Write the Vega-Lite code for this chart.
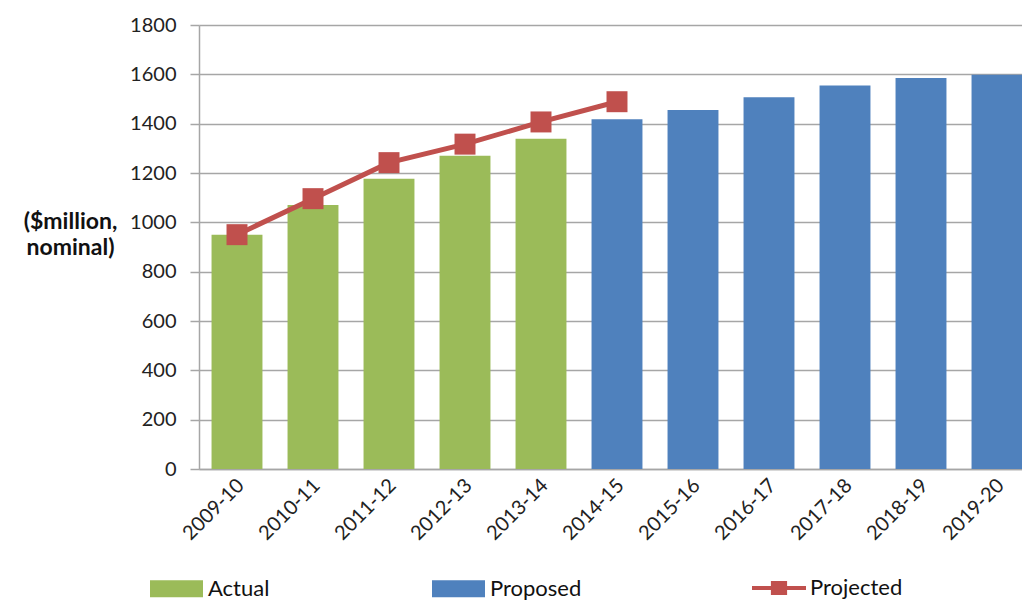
{
  "$schema": "https://vega.github.io/schema/vega-lite/v6.json",
  "width": 836,
  "height": 444,
  "autosize": {"type": "none"},
  "padding": {"left": 199, "top": 25, "right": -13, "bottom": 132},
  "background": "white",
  "config": {
    "view": {"stroke": null},
    "font": "Lato",
    "axis": {"labelFont": "Lato", "titleFont": "Lato"},
    "legend": {"labelFont": "Lato", "padding": 0}
  },
  "datasets": {
    "bars": [
      {"year": "2009-10", "value": 950, "type": "Actual"},
      {"year": "2010-11", "value": 1070, "type": "Actual"},
      {"year": "2011-12", "value": 1177, "type": "Actual"},
      {"year": "2012-13", "value": 1270, "type": "Actual"},
      {"year": "2013-14", "value": 1339, "type": "Actual"},
      {"year": "2014-15", "value": 1418, "type": "Proposed"},
      {"year": "2015-16", "value": 1455, "type": "Proposed"},
      {"year": "2016-17", "value": 1507, "type": "Proposed"},
      {"year": "2017-18", "value": 1555, "type": "Proposed"},
      {"year": "2018-19", "value": 1585, "type": "Proposed"},
      {"year": "2019-20", "value": 1598, "type": "Proposed"}
    ],
    "projected": [
      {"year": "2009-10", "value": 950, "series": "Projected"},
      {"year": "2010-11", "value": 1096, "series": "Projected"},
      {"year": "2011-12", "value": 1242, "series": "Projected"},
      {"year": "2012-13", "value": 1317, "series": "Projected"},
      {"year": "2013-14", "value": 1407, "series": "Projected"},
      {"year": "2014-15", "value": 1489, "series": "Projected"}
    ]
  },
  "encoding": {
    "x": {
      "field": "year",
      "type": "ordinal",
      "sort": null,
      "scale": {
        "domain": ["2009-10","2010-11","2011-12","2012-13","2013-14","2014-15","2015-16","2016-17","2017-18","2018-19","2019-20"],
        "paddingInner": 0.33,
        "paddingOuter": 0.165
      },
      "axis": {
        "title": null,
        "labelAngle": -45,
        "labelAlign": "right",
        "labelBaseline": "middle",
        "labelFontSize": 20,
        "labelColor": "#222222",
        "labelPadding": 13,
        "labelOffset": 4,
        "ticks": false,
        "grid": false,
        "domainColor": "#A6A6A6",
        "domainWidth": 1.5
      }
    },
    "y": {
      "field": "value",
      "type": "quantitative",
      "scale": {"domain": [0, 1800], "nice": false},
      "axis": {
        "values": [0,200,400,600,800,1000,1200,1400,1600,1800],
        "format": "d",
        "title": ["($million,", "nominal)"],
        "titleAngle": 0,
        "titleAlign": "center",
        "titleBaseline": "middle",
        "titleX": -129,
        "titleY": 196,
        "titleFontSize": 23,
        "titleFontWeight": "bold",
        "titleColor": "#111111",
        "titleLineHeight": 26,
        "labelFontSize": 20,
        "labelColor": "#222222",
        "labelPadding": 14,
        "tickSize": 9,
        "tickColor": "#A6A6A6",
        "tickWidth": 1.5,
        "domainColor": "#A6A6A6",
        "domainWidth": 1.5,
        "gridColor": "#A6A6A6",
        "gridWidth": 1.5
      }
    }
  },
  "layer": [
    {
      "data": {"name": "bars"},
      "mark": {"type": "bar"},
      "encoding": {
        "color": {
          "field": "type",
          "type": "nominal",
          "scale": {"domain": ["Actual", "Proposed"], "range": ["#9BBB59", "#4F81BD"]},
          "legend": {
            "title": null,
            "orient": "none",
            "direction": "horizontal",
            "legendX": -49,
            "legendY": 537,
            "symbolType": "M-1,-0.32H1V0.32H-1Z",
            "symbolSize": 2809,
            "symbolStrokeWidth": 0,
            "symbolOpacity": 1,
            "labelFontSize": 22,
            "labelColor": "#111111",
            "labelOffset": 5,
            "gridAlign": "all",
            "columnPadding": 132
          }
        }
      }
    },
    {
      "data": {"name": "projected"},
      "mark": {"type": "line", "color": "#C0504D", "strokeWidth": 5},
      "encoding": {}
    },
    {
      "data": {"name": "projected"},
      "mark": {"type": "point", "shape": "square", "filled": true, "size": 440, "opacity": 1},
      "encoding": {
        "color": {
          "field": "series",
          "type": "nominal",
          "scale": {"domain": ["Projected"], "range": ["#C0504D"]},
          "legend": {
            "title": null,
            "orient": "none",
            "direction": "horizontal",
            "legendX": 553,
            "legendY": 536,
            "symbolType": "M-1,-0.075H-0.3V-0.26H0.3V-0.075H1V0.075H0.3V0.26H-0.3V0.075H-1Z",
            "symbolSize": 2916,
            "symbolStrokeWidth": 0,
            "symbolOpacity": 1,
            "labelFontSize": 22,
            "labelColor": "#111111",
            "labelOffset": 4
          }
        }
      }
    }
  ],
  "resolve": {"scale": {"color": "independent"}}
}
